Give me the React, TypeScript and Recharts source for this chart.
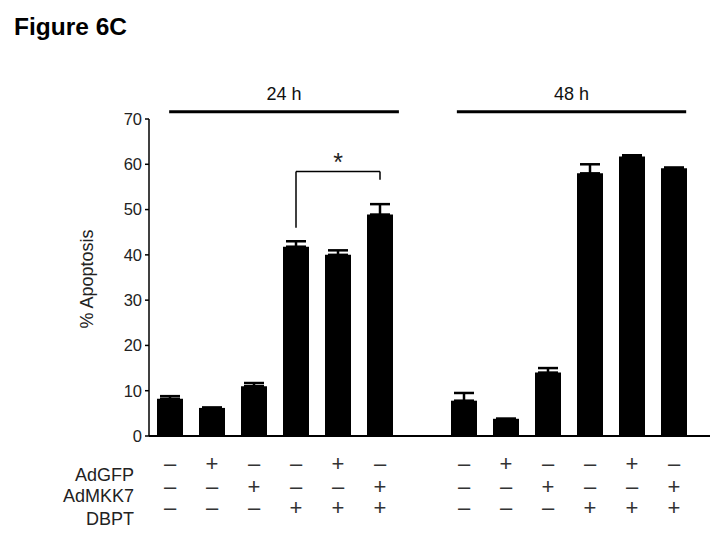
import React from 'react';
import { BarChart, Bar, XAxis, YAxis, ErrorBar, ReferenceLine } from 'recharts';

const FONT = '"Liberation Sans", Arial, sans-serif';

// treatment rows (same pattern for both time points)
const adGFP = ['–', '+', '–', '–', '+', '–'];
const adMKK7 = ['–', '–', '+', '–', '–', '+'];
const dbpt = ['–', '–', '–', '+', '+', '+'];

// % apoptosis
const apoptosis24 = [8.2, 6.2, 11.0, 41.8, 40.0, 48.9];
const error24 = [0.6, 0.1, 0.7, 1.2, 1.0, 2.3];
const apoptosis48 = [7.8, 3.8, 14.0, 58.0, 61.7, 59.1];
const error48 = [1.7, 0, 1.0, 2.0, 0.3, 0.2];

const yTicks = [0, 10, 20, 30, 40, 50, 60, 70];
const slotTicks = [0, 1, 2, 3, 4, 5, 6, 7, 8, 9, 10, 11, 12, 13];

// slot 6 is left empty between the two groups
const data = [
  ...apoptosis24.map((v, i) => ({ pos: i + 0.5, value: v, err: [0, error24[i]], idx: i })),
  ...apoptosis48.map((v, i) => ({ pos: i + 7.5, value: v, err: [0, error48[i]], idx: i })),
];
const signTicks = data.map(d => d.pos);

// one column of +/– signs under each bar
function SignTick(props: any) {
  const { x, y, payload } = props;
  const i = data.find(d => d.pos === payload.value)?.idx ?? 0;
  return (
    <text textAnchor="middle" fontFamily={FONT} fontSize={22} fill="#333">
      <tspan x={x} y={y + 25}>{adGFP[i]}</tspan>
      <tspan x={x} y={y + 48}>{adMKK7[i]}</tspan>
      <tspan x={x} y={y + 69}>{dbpt[i]}</tspan>
    </text>
  );
}

export default function App() {
  return (
    <div style={{ position: 'absolute', left: 0, top: 0, width: 727, height: 559, background: '#fff' }}>
      <BarChart
        width={727}
        height={559}
        data={data}
        margin={{ top: 119, right: 17, left: 89, bottom: 0 }}
      >
        <YAxis
          type="number"
          domain={[0, 70]}
          ticks={yTicks}
          width={60}
          tickSize={4}
          tickMargin={3}
          axisLine={{ stroke: '#000', strokeWidth: 1.5 }}
          tickLine={{ stroke: '#000', strokeWidth: 1.5 }}
          tick={{ fill: '#222', fontSize: 16.5, fontFamily: FONT }}
        />
        <XAxis
          xAxisId="main"
          dataKey="pos"
          type="number"
          domain={[0, 13]}
          ticks={slotTicks}
          padding={{ left: 0, right: 15 }}
          height={10}
          tickSize={4}
          tick={false}
          axisLine={{ stroke: '#000', strokeWidth: 2 }}
          tickLine={{ stroke: '#000', strokeWidth: 1.5 }}
        />
        <XAxis
          xAxisId="signs"
          dataKey="pos"
          type="number"
          domain={[0, 13]}
          ticks={signTicks}
          padding={{ left: 0, right: 15 }}
          height={113}
          tickSize={0}
          tickMargin={0}
          axisLine={false}
          tickLine={false}
          tick={<SignTick />}
        />
        <Bar xAxisId="main" dataKey="value" fill="#000" barSize={26} isAnimationActive={false}>
          <ErrorBar dataKey="err" direction="y" width={10} stroke="#000" strokeWidth={2.5} />
        </Bar>

        {/* time point brackets */}
        <ReferenceLine
          xAxisId="main"
          segment={[{ x: 0.48, y: 71.6 }, { x: 5.95, y: 71.6 }]}
          stroke="#000"
          strokeWidth={3}
          ifOverflow="visible"
          label={{ value: '24 h', position: 'top', offset: 12, fill: '#111', fontSize: 18, fontFamily: FONT }}
        />
        <ReferenceLine
          xAxisId="main"
          segment={[{ x: 7.33, y: 71.6 }, { x: 12.79, y: 71.6 }]}
          stroke="#000"
          strokeWidth={3}
          ifOverflow="visible"
          label={{ value: '48 h', position: 'top', offset: 12, fill: '#111', fontSize: 18, fontFamily: FONT }}
        />

        {/* significance bracket */}
        <ReferenceLine xAxisId="main" segment={[{ x: 3.5, y: 46.0 }, { x: 3.5, y: 58.4 }]} stroke="#000" strokeWidth={1.5} ifOverflow="visible" />
        <ReferenceLine
          xAxisId="main"
          segment={[{ x: 3.5, y: 58.4 }, { x: 5.5, y: 58.4 }]}
          stroke="#000"
          strokeWidth={1.5}
          ifOverflow="visible"
          label={{ value: '*', position: 'top', offset: 1, fill: '#222', fontSize: 25, fontFamily: FONT }}
        />
        <ReferenceLine xAxisId="main" segment={[{ x: 5.5, y: 56.6 }, { x: 5.5, y: 58.4 }]} stroke="#000" strokeWidth={1.5} ifOverflow="visible" />
      </BarChart>

      <svg width={727} height={559} style={{ position: 'absolute', left: 0, top: 0, pointerEvents: 'none' }}>
        <text x={14} y={35} fontFamily={FONT} fontSize={24.5} fontWeight="bold" fill="#000">Figure 6C</text>
        <text transform="translate(93,279) rotate(-90)" textAnchor="middle" fontFamily={FONT} fontSize={18} fill="#222">% Apoptosis</text>
        <text x={134} y={481} textAnchor="end" fontFamily={FONT} fontSize={18} fill="#222">AdGFP</text>
        <text x={134} y={502} textAnchor="end" fontFamily={FONT} fontSize={18} fill="#222">AdMKK7</text>
        <text x={134} y={525} textAnchor="end" fontFamily={FONT} fontSize={18} fill="#222">DBPT</text>
      </svg>
    </div>
  );
}
